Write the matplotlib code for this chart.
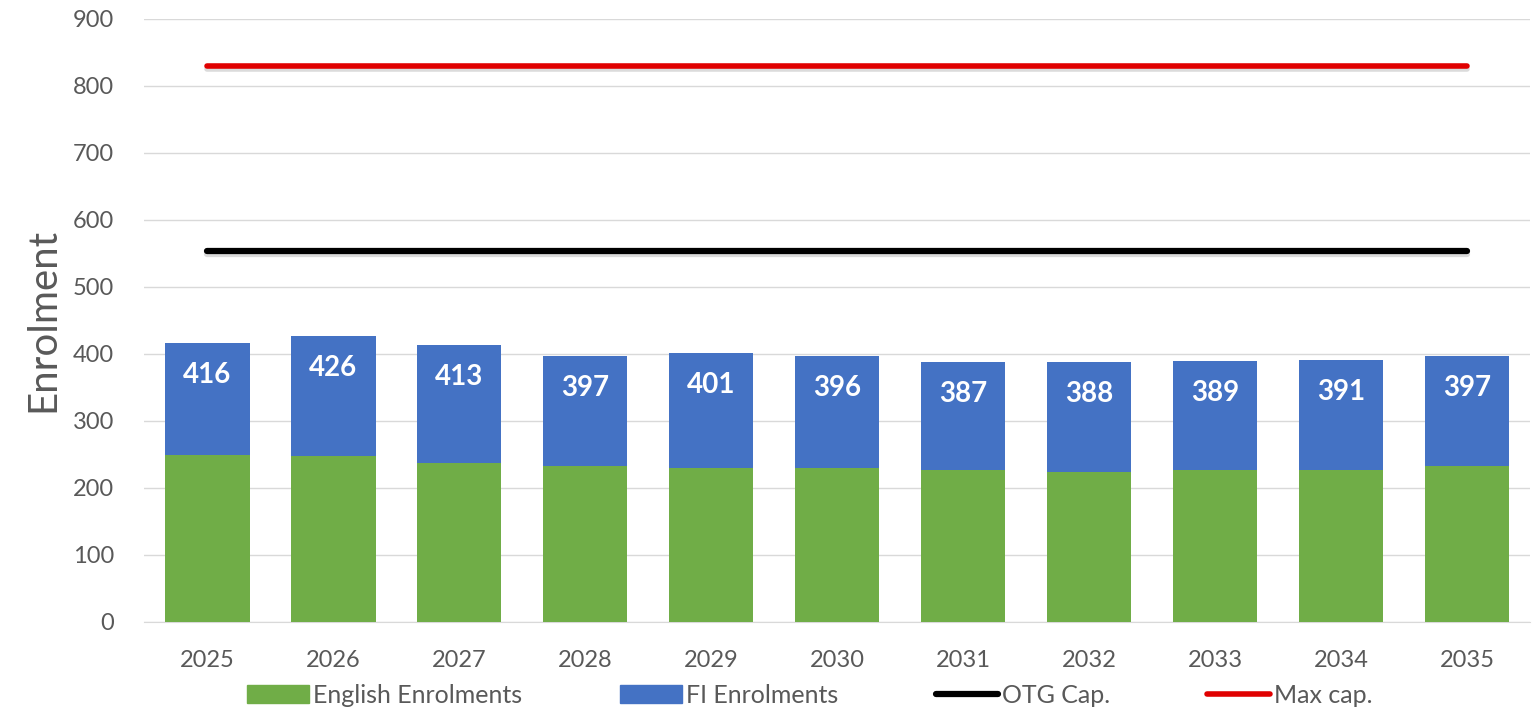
import matplotlib.pyplot as plt
import matplotlib.patheffects as pe
from matplotlib.lines import Line2D
from matplotlib.patches import Patch
import numpy as np

plt.rcParams['font.family'] = ['Lato', 'DejaVu Sans']

years = ['2025', '2026', '2027', '2028', '2029', '2030', '2031', '2032', '2033', '2034', '2035']
english = [249, 247, 237, 232, 229, 229, 226, 224, 226, 226, 232]
totals = [416, 426, 413, 397, 401, 396, 387, 388, 389, 391, 397]
fi = [t - e for t, e in zip(totals, english)]
otg_cap = [554] * len(years)
max_cap = [830] * len(years)

green = '#70AD47'
blue = '#4472C4'
grey = '#595959'
red = '#E00000'

fig = plt.figure(figsize=(15.36, 7.18), dpi=100)
ax = fig.add_axes([0.094, 0.134, 0.902, 0.840])

x = np.arange(len(years))
ax.bar(x, english, width=0.67, color=green, zorder=3)
ax.bar(x, fi, width=0.67, bottom=english, color=blue, zorder=3)

# capacity lines with a soft shadow like the office chart
shadow = [pe.SimpleLineShadow(offset=(0, -2.5), shadow_color='#999999', alpha=0.35), pe.Normal()]
ax.plot(x, otg_cap, color='black', linewidth=4.5, solid_capstyle='round', zorder=4, path_effects=shadow)
ax.plot(x, max_cap, color=red, linewidth=4, solid_capstyle='round', zorder=4, path_effects=shadow)

# totals written inside the top of each stack
for xi, t in zip(x, totals):
    ax.annotate(str(t), xy=(xi, t), xytext=(0, -23), textcoords='offset points',
                ha='center', va='center', color='white', fontsize=20, fontweight='bold', zorder=5)

ax.set_ylim(0, 900)
ax.set_xlim(-0.5, len(years) - 0.5)
ax.set_yticks(range(0, 901, 100))
ax.set_xticks(x)
ax.set_xticklabels(years)
ax.tick_params(axis='both', length=0, labelsize=17, colors=grey)
ax.tick_params(axis='x', pad=20)
ax.tick_params(axis='y', pad=22)
ax.grid(axis='y', color='#D9D9D9', linewidth=1, zorder=0)
for side in ['top', 'right', 'left']:
    ax.spines[side].set_visible(False)
ax.spines['bottom'].set_color('#D9D9D9')
ax.set_ylabel('Enrolment', fontsize=29, color=grey, labelpad=8)

handles = [Patch(color=green, label='English Enrolments'),
           Patch(color=blue, label='FI Enrolments'),
           Line2D([0], [0], color='black', linewidth=4.5, solid_capstyle='round', label='OTG Cap.'),
           Line2D([0], [0], color=red, linewidth=4, solid_capstyle='round', label='Max cap.')]
leg = fig.legend(handles=handles, loc='center', bbox_to_anchor=(0.527, 0.032), ncol=4,
                 frameon=False, fontsize=18, handlelength=2.5, handleheight=0.7,
                 handletextpad=0.15, columnspacing=3.9)
for t in leg.get_texts():
    t.set_color(grey)

fig.savefig('out.png', dpi=100)
